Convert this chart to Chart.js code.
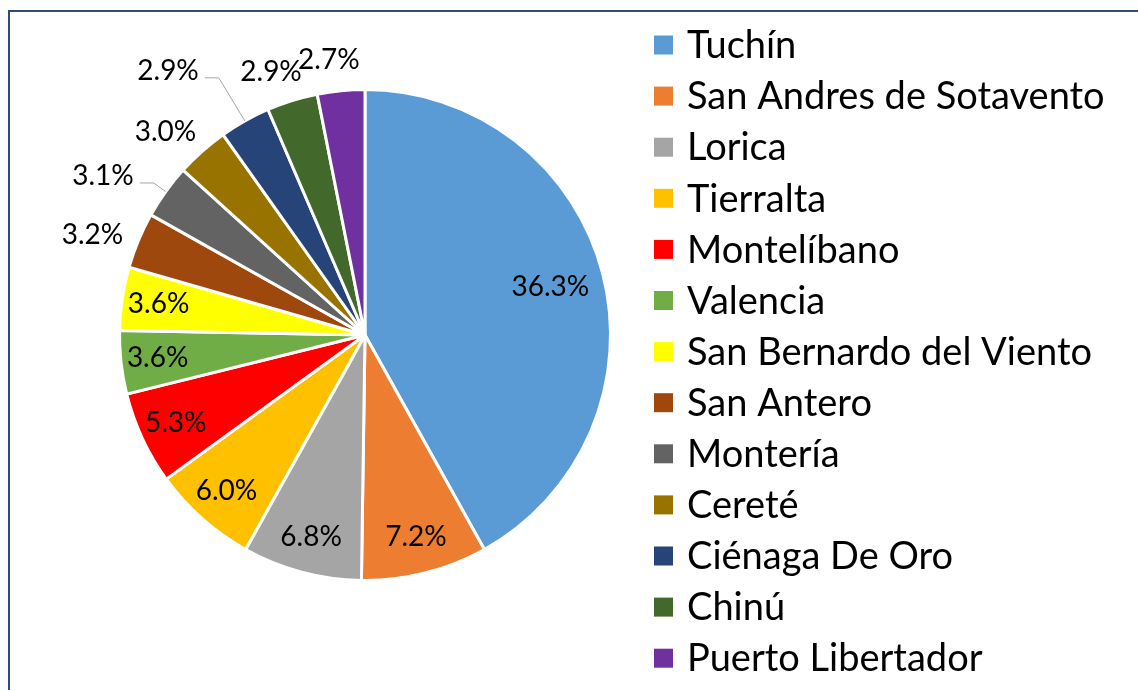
<!DOCTYPE html>
<html>
<head>
<meta charset="utf-8">
<title>Pie chart</title>
<script src="https://cdn.jsdelivr.net/npm/chart.js@4.4.1/dist/chart.umd.min.js"></script>
<style>
  html, body { margin: 0; padding: 0; background: #fff; overflow: hidden; }
  #frame {
    position: absolute; left: 8px; top: 10px; width: 1150px; height: 700px;
    border: 2px solid #2F4B7C; box-sizing: border-box;
  }
  #wrap { position: absolute; left: 0; top: 0; width: 1138px; height: 690px; }
</style>
</head>
<body>
<div id="frame"></div>
<div id="wrap"><canvas id="pieChart"></canvas></div>
<script>
const municipios = [
  "Tuchín", "San Andres de Sotavento", "Lorica", "Tierralta", "Montelíbano",
  "Valencia", "San Bernardo del Viento", "San Antero", "Montería", "Cereté",
  "Ciénaga De Oro", "Chinú", "Puerto Libertador"
];
const porcentajes = [36.3, 7.2, 6.8, 6.0, 5.3, 3.6, 3.6, 3.2, 3.1, 3.0, 2.9, 2.9, 2.7];
const colores = [
  "#5B9BD5", "#ED7D31", "#A5A5A5", "#FFC000", "#FF0000", "#70AD47", "#FFFF00",
  "#9E480E", "#636363", "#997300", "#264478", "#43682B", "#7030A0"
];

const FONT = "Lato, 'Open Sans', sans-serif";

// percentage labels, inside big slices and outside small ones
const sliceLabels = {
  id: "sliceLabels",
  afterDatasetsDraw(chart, args, opts) {
    const ctx = chart.ctx;
    const meta = chart.getDatasetMeta(0);
    const total = porcentajes.reduce((a, b) => a + b, 0);
    ctx.save();
    ctx.font = `${opts.size}px ${FONT}`;
    ctx.fillStyle = "#000";
    ctx.textAlign = "center";
    ctx.textBaseline = "middle";
    meta.data.forEach((arc, i) => {
      const p = arc.getProps(["x", "y", "startAngle", "endAngle", "outerRadius"], true);
      const mid = (p.startAngle + p.endAngle) / 2;
      const share = porcentajes[i] / total;
      const text = porcentajes[i].toFixed(1) + "%";
      const w = ctx.measureText(text).width;
      const lead = opts.leaders[i];
      let lx, ly;
      if (share >= 0.04) {
        const r = p.outerRadius * (share > 0.3 ? opts.mainRatio : opts.insideRatio);
        lx = p.x + Math.cos(mid) * r;
        ly = p.y + Math.sin(mid) * r;
      } else if (lead) {
        const ang = mid + lead.turn * Math.PI / 180;
        const r = p.outerRadius + lead.gap;
        lx = p.x + Math.cos(ang) * r;
        ly = p.y + Math.sin(ang) * r;
      } else {
        // label box sits just outside the rim, pushed away along the angle
        const ang = mid + opts.outsideTurn * Math.PI / 180;
        const r = p.outerRadius + opts.outsideGap;
        lx = p.x + Math.cos(ang) * (r + w / 2 + 2);
        ly = p.y + Math.sin(ang) * (r + 18);
      }
      ctx.fillText(text, lx, ly);

      if (lead) {
        const ax = p.x + Math.cos(mid) * p.outerRadius;
        const ay = p.y + Math.sin(mid) * p.outerRadius;
        ctx.beginPath();
        ctx.strokeStyle = "#A6A6A6";
        ctx.lineWidth = 1;
        ctx.moveTo(ax, ay);
        ctx.lineTo(lx + w / 2 + 20, ly + 7);
        ctx.lineTo(lx + w / 2 + 6, ly + 7);
        ctx.stroke();
      }
    });
    ctx.restore();
  }
};

// legend column on the right
const sideLegend = {
  id: "sideLegend",
  afterDraw(chart, args, opts) {
    const ctx = chart.ctx;
    ctx.save();
    ctx.font = `${opts.size}px ${FONT}`;
    ctx.textAlign = "left";
    ctx.textBaseline = "middle";
    chart.data.labels.forEach((name, i) => {
      const cy = opts.top + i * opts.step;
      ctx.fillStyle = chart.data.datasets[0].backgroundColor[i];
      ctx.fillRect(opts.left, cy - opts.box / 2, opts.box, opts.box);
      ctx.fillStyle = "#000";
      ctx.fillText(name, opts.left + opts.box + 14, cy + 1);
    });
    ctx.restore();
  }
};

function drawChart() {
  const ctx = document.getElementById("pieChart").getContext("2d");
  new Chart(ctx, {
    type: "pie",
    data: {
      labels: municipios,
      datasets: [{
        data: porcentajes,
        backgroundColor: colores,
        borderColor: "#FFFFFF",
        borderWidth: 3
      }]
    },
    options: {
      responsive: true,
      maintainAspectRatio: false,
      animation: false,
      layout: {
        padding: { left: 118, right: 526, top: 88, bottom: 108 }
      },
      plugins: {
        legend: { display: false },
        tooltip: { enabled: false },
        sliceLabels: {
          size: 28,
          mainRatio: 0.78,
          insideRatio: 0.85,
          outsideGap: 14,
          outsideTurn: -1.5,
          leaders: {
            8: { gap: 61, turn: -4.5 },
            10: { gap: 84, turn: -7.4 }
          }
        },
        sideLegend: { size: 38, left: 654, top: 45, step: 51.1, box: 19 }
      }
    },
    plugins: [sliceLabels, sideLegend]
  });
}

if (document.fonts && document.fonts.load) {
  document.fonts.load(`38px ${FONT}`).then(drawChart, drawChart);
} else {
  drawChart();
}
</script>
</body>
</html>
